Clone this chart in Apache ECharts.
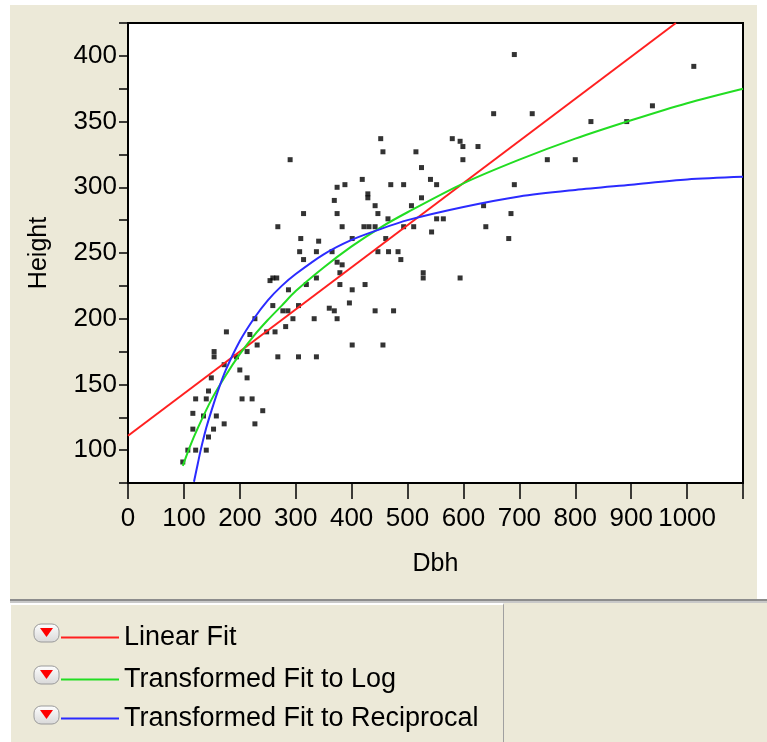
<!DOCTYPE html>
<html><head><meta charset="utf-8">
<script src="https://cdn.jsdelivr.net/npm/echarts@6/dist/echarts.min.js"></script>
<style>
html,body{margin:0;padding:0;background:#fff;}
#wrap{position:relative;width:767px;height:742px;overflow:hidden;background:#fff;}
.bg{position:absolute;background:#ECE9D8;}
#chart{position:absolute;left:0;top:0;width:767px;height:742px;}
</style></head>
<body><div id="wrap">
<div class="bg" style="left:10px;top:5px;width:747px;height:595px"></div>
<div style="position:absolute;left:10px;top:599px;width:757px;height:2px;background:#8c8c8c"></div>
<div style="position:absolute;left:10px;top:601px;width:757px;height:2px;background:#c8c8c8"></div>
<div class="bg" style="left:10px;top:603px;width:492px;height:139px;border-right:1px solid #a0a0a0;border-top:2px solid #fff;border-left:1px solid #fff"></div>
<div class="bg" style="left:504px;top:603px;width:263px;height:139px"></div>
<div id="chart"></div></div>
<script>
// Scatter data: Dbh and Height
const dbh = [452,456,290,515,525,419,388,374,470,493,541,552,369,429,429,442,374,314,447,525,
  507,465,552,564,268,383,422,431,442,493,511,543,309,341,401,461,
  307,337,365,314,374,383,447,466,483,488,259,266,254,337,379,379,319,287,401,424,
  528,528,396,360,369,259,277,286,305,295,333,374,442,475,282,263,248,176,218,227,
  231,401,456,154,154,268,305,337,194,213,172,200,149,213,144,121,140,204,222,241,
  116,135,158,172,227,116,153,144,107,121,140,98,
  691,1012,654,723,938,828,892,580,594,599,626,599,750,800,691,636,685,640,681,594];
const height = [337,327,321,327,315,306,302,300,302,302,306,302,290,295,292,286,280,280,280,292,
  286,276,276,276,270,270,270,270,270,270,270,266,261,259,261,261,
  251,251,251,245,243,241,251,251,251,245,231,231,229,231,235,226,226,222,222,226,
  235,231,212,208,206,210,206,206,210,200,200,200,206,206,194,190,190,190,188,200,
  180,180,180,175,171,171,171,171,171,175,165,161,155,155,145,139,139,139,139,130,
  128,126,126,120,120,116,116,110,100,100,100,91,
  401,392,356,356,362,350,350,337,335,331,331,321,321,321,302,286,280,270,261,231];

// Fit curves
const linearDbh = [0, 980];
const linearH = [111, 425];
const logDbh = [98,110,125,150,175,200,225,250,275,300,350,400,450,500,600,700,800,900,1000,1100];
const logH = [88,102,117,139,157,173,187,199,210,221,239,255,269,281,303,321,337,351,364,375];
const recipDbh = [118,125,130,140,150,160,175,200,225,250,275,300,350,400,450,500,600,700,800,900,1000,1100];
const recipH = [76,90,100,117,131,144,161,183,200,214,225,234,249,260,268,275,285,293,298,302,306,308];

const seriesNames = ['Linear Fit','Transformed Fit to Log','Transformed Fit to Reciprocal'];
const seriesColors = ['#FF2020','#22DD22','#2B2BFF'];
const xTicks = [0,100,200,300,400,500,600,700,800,900,1000];
const yTicks = [100,150,200,250,300,350,400];

const FONT = '"Liberation Sans", Arial, sans-serif';
const zip = (a,b) => a.map((v,i)=>[v,b[i]]);

const chart = echarts.init(document.getElementById('chart'), null, {renderer:'canvas'});

const legendTops = [624, 666, 705];
const iconCenters = [633, 675, 715];
const graphics = [];
iconCenters.forEach(cy => {
  graphics.push({type:'rect', shape:{x:34,y:cy-9,width:25,height:18,r:7},
    style:{fill:new echarts.graphic.LinearGradient(0,0,0,1,[{offset:0,color:'#ffffff'},{offset:1,color:'#d8d8d8'}]),stroke:'#9a9a9a',lineWidth:1}, z:10});
  graphics.push({type:'polygon', shape:{points:[[40,cy-5],[53,cy-5],[46.5,cy+4]]}, style:{fill:'#ff0000'}, z:11});
});

chart.setOption({
  animation:false,
  backgroundColor:'transparent',
  textStyle:{fontFamily:FONT},
  grid:{left:128,right:24,top:23,bottom:259,show:true,backgroundColor:'#fff',borderColor:'#000',borderWidth:2,containLabel:false},
  xAxis:{type:'value',min:0,max:1100,interval:100,name:'Dbh',nameLocation:'middle',nameGap:69,
    nameTextStyle:{fontSize:25,color:'#000',fontFamily:FONT},
    axisLine:{show:true,onZero:false,lineStyle:{color:'#000',width:2}},
    axisTick:{show:true,length:16,lineStyle:{color:'#000',width:1.5}},
    axisLabel:{fontSize:26,color:'#000',margin:23,fontFamily:FONT,
      formatter:v=>xTicks.includes(v)?String(v):''},
    splitLine:{show:false}},
  yAxis:{type:'value',min:75,max:425,interval:25,name:'Height',nameLocation:'middle',nameGap:76,nameRotate:90,
    nameTextStyle:{fontSize:25,color:'#000',fontFamily:FONT},
    axisLine:{show:true,onZero:false,lineStyle:{color:'#000',width:2}},
    axisTick:{show:true,length:9,lineStyle:{color:'#000',width:1.5}},
    axisLabel:{fontSize:26,color:'#000',margin:11,fontFamily:FONT,
      formatter:v=>yTicks.includes(v)?String(v):''},
    splitLine:{show:false}},
  legend:seriesNames.map((n,i)=>({data:[n],left:61,top:legendTops[i],orient:'vertical',icon:'rect',
    itemWidth:58,itemHeight:2,padding:0,selectedMode:false,
    textStyle:{fontSize:27,color:'#000',fontFamily:FONT}})),
  graphic:graphics,
  series:[
    {type:'scatter',name:'points',data:zip(dbh,height),symbol:'rect',symbolSize:5,
      itemStyle:{color:'#000'},z:2,silent:true},
    {type:'line',name:seriesNames[0],data:zip(linearDbh,linearH),showSymbol:false,
      lineStyle:{color:seriesColors[0],width:2},itemStyle:{color:seriesColors[0]},z:3},
    {type:'line',name:seriesNames[1],data:zip(logDbh,logH),showSymbol:false,smooth:0.3,
      lineStyle:{color:seriesColors[1],width:2},itemStyle:{color:seriesColors[1]},z:3},
    {type:'line',name:seriesNames[2],data:zip(recipDbh,recipH),showSymbol:false,smooth:0.3,
      lineStyle:{color:seriesColors[2],width:2},itemStyle:{color:seriesColors[2]},z:3}
  ]
});
</script>
</body></html>
